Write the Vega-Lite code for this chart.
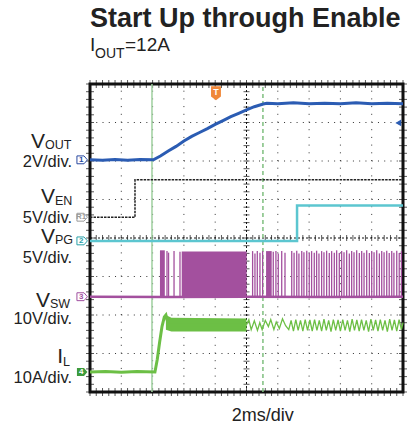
{
  "$schema": "https://vega.github.io/schema/vega-lite/v6.json",
  "width": 313,
  "height": 308,
  "autosize": {"type": "none"},
  "padding": {"left": 90, "top": 84, "right": 6, "bottom": 35},
  "config": {
    "view": {"stroke": "#111111", "strokeWidth": 3},
    "font": "Liberation Sans",
    "axis": {"disable": true},
    "text": {"font": "Liberation Sans", "color": "#222222", "baseline": "alphabetic"}
  },
  "datasets": {
    "gx": [{"t": 2}, {"t": 4}, {"t": 6}, {"t": 8}, {"t": 12}, {"t": 14}, {"t": 16}, {"t": 18}],
    "gy": [{"d": 1}, {"d": 2}, {"d": 3}, {"d": 5}, {"d": 6}, {"d": 7}],
    "mx": [{"t":0},{"t":0.4},{"t":0.8},{"t":1.2},{"t":1.6},{"t":2},{"t":2.4},{"t":2.8},{"t":3.2},{"t":3.6},{"t":4},{"t":4.4},{"t":4.8},{"t":5.2},{"t":5.6},{"t":6},{"t":6.4},{"t":6.8},{"t":7.2},{"t":7.6},{"t":8},{"t":8.4},{"t":8.8},{"t":9.2},{"t":9.6},{"t":10},{"t":10.4},{"t":10.8},{"t":11.2},{"t":11.6},{"t":12},{"t":12.4},{"t":12.8},{"t":13.2},{"t":13.6},{"t":14},{"t":14.4},{"t":14.8},{"t":15.2},{"t":15.6},{"t":16},{"t":16.4},{"t":16.8},{"t":17.2},{"t":17.6},{"t":18},{"t":18.4},{"t":18.8},{"t":19.2},{"t":19.6},{"t":20}],
    "my": [{"d":0},{"d":0.2},{"d":0.4},{"d":0.6},{"d":0.8},{"d":1},{"d":1.2},{"d":1.4},{"d":1.6},{"d":1.8},{"d":2},{"d":2.2},{"d":2.4},{"d":2.6},{"d":2.8},{"d":3},{"d":3.2},{"d":3.4},{"d":3.6},{"d":3.8},{"d":4},{"d":4.2},{"d":4.4},{"d":4.6},{"d":4.8},{"d":5},{"d":5.2},{"d":5.4},{"d":5.6},{"d":5.8},{"d":6},{"d":6.2},{"d":6.4},{"d":6.6},{"d":6.8},{"d":7},{"d":7.2},{"d":7.4},{"d":7.6},{"d":7.8},{"d":8}],
    "vout": [{"t":0,"d":6.03},{"t":0.8,"d":6.02},{"t":1.6,"d":6.04},{"t":2.4,"d":6.02},{"t":3.2,"d":6.04},{"t":4.05,"d":6.03},{"t":4.5,"d":6.13},{"t":5.0,"d":6.26},{"t":5.5,"d":6.38},{"t":6.0,"d":6.52},{"t":6.5,"d":6.64},{"t":7.0,"d":6.74},{"t":7.5,"d":6.84},{"t":8.0,"d":6.95},{"t":8.5,"d":7.05},{"t":9.0,"d":7.15},{"t":9.5,"d":7.24},{"t":10.0,"d":7.33},{"t":10.5,"d":7.41},{"t":11.07,"d":7.48},{"t":11.3,"d":7.5},{"t":12,"d":7.49},{"t":13,"d":7.51},{"t":14,"d":7.49},{"t":15,"d":7.5},{"t":16,"d":7.49},{"t":17,"d":7.51},{"t":18,"d":7.49},{"t":19,"d":7.5},{"t":20,"d":7.49}],
    "ven": [{"t":0,"d":4.54},{"t":2.875,"d":5.51},{"t":20,"d":5.51}],
    "vpg": [{"t":0,"d":3.925},{"t":13.23,"d":4.845},{"t":20,"d":4.845}],
    "vswBase": [{"t":0,"d":2.475},{"t":5,"d":2.47},{"t":10,"d":2.475},{"t":15,"d":2.47},{"t":20,"d":2.475}],
    "vswBlock": [
      {"seg":"a","t":4.47,"lo":2.45,"hi":3.68},{"seg":"a","t":4.78,"lo":2.45,"hi":3.68},
      {"seg":"b","t":5.86,"lo":2.45,"hi":3.65},{"seg":"b","t":10.01,"lo":2.45,"hi":3.65},
      {"seg":"c","t":11.25,"lo":2.45,"hi":3.66},{"seg":"c","t":11.61,"lo":2.45,"hi":3.66}
    ],
    "vswPulse": [{"t":4.92,"hi":3.66},{"t":5.02,"hi":3.62},{"t":5.37,"hi":3.66},{"t":5.75,"hi":3.64},{"t":10.39,"hi":3.66},{"t":10.54,"hi":3.6},{"t":10.69,"hi":3.66},{"t":10.86,"hi":3.62},{"t":11.03,"hi":3.66},{"t":11.71,"hi":3.64},{"t":11.88,"hi":3.66},{"t":12.03,"hi":3.6},{"t":12.25,"hi":3.66},{"t":12.46,"hi":3.62},{"t":12.89,"hi":3.66},{"t":13.04,"hi":3.62},{"t":13.21,"hi":3.67},{"t":13.35,"hi":3.6},{"t":13.53,"hi":3.66},{"t":13.67,"hi":3.63},{"t":13.85,"hi":3.67},{"t":14.01,"hi":3.61},{"t":14.16,"hi":3.66},{"t":14.33,"hi":3.62},{"t":14.48,"hi":3.67},{"t":14.63,"hi":3.6},{"t":14.8,"hi":3.66},{"t":14.95,"hi":3.63},{"t":15.12,"hi":3.67},{"t":15.29,"hi":3.61},{"t":15.44,"hi":3.66},{"t":15.61,"hi":3.62},{"t":15.76,"hi":3.68},{"t":15.93,"hi":3.61},{"t":16.08,"hi":3.66},{"t":16.23,"hi":3.63},{"t":16.4,"hi":3.68},{"t":16.57,"hi":3.6},{"t":16.72,"hi":3.66},{"t":16.87,"hi":3.63},{"t":17.04,"hi":3.68},{"t":17.21,"hi":3.61},{"t":17.36,"hi":3.66},{"t":17.51,"hi":3.62},{"t":17.68,"hi":3.68},{"t":17.85,"hi":3.61},{"t":18.0,"hi":3.66},{"t":18.15,"hi":3.63},{"t":18.32,"hi":3.68},{"t":18.49,"hi":3.6},{"t":18.64,"hi":3.66},{"t":18.79,"hi":3.63},{"t":18.96,"hi":3.67},{"t":19.12,"hi":3.61},{"t":19.28,"hi":3.66},{"t":19.42,"hi":3.62},{"t":19.6,"hi":3.67},{"t":19.76,"hi":3.61},{"t":19.9,"hi":3.66}],
    "il1": [{"t":0,"d":0.52},{"t":1,"d":0.53},{"t":2,"d":0.51},{"t":3,"d":0.53},{"t":4.15,"d":0.52},{"t":4.3,"d":0.85},{"t":4.45,"d":1.3},{"t":4.6,"d":1.7},{"t":4.75,"d":1.95},{"t":4.85,"d":2.0},{"t":5.0,"d":1.75},{"t":10.0,"d":1.75}],
    "ilBand": [{"t":4.85,"lo":1.62,"hi":2.0},{"t":5.2,"lo":1.57,"hi":1.93},{"t":10.0,"lo":1.57,"hi":1.91}],
    "il2": [{"t":10.0,"d":1.75},{"t":10.15,"d":1.88},{"t":10.3,"d":1.62},{"t":10.5,"d":1.85},{"t":10.7,"d":1.6},{"t":10.85,"d":1.8},{"t":11.0,"d":1.62},{"t":11.2,"d":1.86},{"t":11.4,"d":1.7},{"t":11.55,"d":1.88},{"t":11.75,"d":1.62},{"t":11.9,"d":1.82},{"t":12.1,"d":1.65},{"t":12.3,"d":1.9},{"t":12.5,"d":1.72},{"t":12.7,"d":1.62},{"t":12.85,"d":1.86},{"t":13.0,"d":1.58},{"t":13.15,"d":1.88},{"t":13.3,"d":1.6},{"t":13.45,"d":1.86},{"t":13.6,"d":1.58},{"t":13.75,"d":1.88},{"t":13.9,"d":1.6},{"t":14.05,"d":1.87},{"t":14.2,"d":1.58},{"t":14.35,"d":1.88},{"t":14.5,"d":1.6},{"t":14.65,"d":1.86},{"t":14.8,"d":1.58},{"t":14.95,"d":1.89},{"t":15.1,"d":1.6},{"t":15.25,"d":1.86},{"t":15.4,"d":1.57},{"t":15.55,"d":1.88},{"t":15.7,"d":1.6},{"t":15.85,"d":1.87},{"t":16.0,"d":1.58},{"t":16.15,"d":1.88},{"t":16.3,"d":1.6},{"t":16.45,"d":1.86},{"t":16.6,"d":1.57},{"t":16.75,"d":1.89},{"t":16.9,"d":1.6},{"t":17.05,"d":1.87},{"t":17.2,"d":1.58},{"t":17.35,"d":1.88},{"t":17.5,"d":1.6},{"t":17.65,"d":1.86},{"t":17.8,"d":1.57},{"t":17.95,"d":1.89},{"t":18.1,"d":1.6},{"t":18.25,"d":1.87},{"t":18.4,"d":1.58},{"t":18.55,"d":1.88},{"t":18.7,"d":1.6},{"t":18.85,"d":1.86},{"t":19.0,"d":1.57},{"t":19.15,"d":1.89},{"t":19.3,"d":1.6},{"t":19.45,"d":1.87},{"t":19.6,"d":1.58},{"t":19.75,"d":1.88},{"t":19.9,"d":1.62},{"t":20.0,"d":1.8}],
    "markers": [{"lab":"1","d":6.03},{"lab":"R1","d":4.54},{"lab":"2","d":3.925},{"lab":"3","d":2.475}],
    "ilMarker": [{"lab":"4","d":0.52}],
    "bigLetters": [{"s":"V","t":-2.875,"d":6.33},{"s":"V","t":-2.236,"d":4.901},{"s":"V","t":-2.236,"d":3.88},{"s":"V","t":-2.556,"d":2.216},{"s":"I","t":-1.725,"d":0.745}],
    "subLetters": [{"s":"OUT","t":-2.875,"d":6.3},{"s":"EN","t":-2.236,"d":4.87},{"s":"PG","t":-2.236,"d":3.855},{"s":"SW","t":-2.556,"d":2.19},{"s":"L","t":-1.725,"d":0.68}],
    "scaleLabels": [{"s":"2V/div.","d":5.85},{"s":"5V/div.","d":4.4},{"s":"5V/div.","d":3.36},{"s":"10V/div.","d":1.755},{"s":"10A/div.","d":0.245}],
    "titleText": [{"s":"Start Up through Enable","t":0,"d":9.48}],
    "subtitleMain": [{"s":"I","t":0,"d":8.86},{"s":"=12A","t":2.236,"d":8.86}],
    "subtitleSub": [{"s":"OUT","t":0.32,"d":8.67}],
    "timeLabel": [{"s":"2ms/div","t":9.054,"d":-0.753}]
  },
  "layer": [
    {
      "data": {"name": "gx"},
      "mark": {"type": "rule", "color": "#333333", "strokeWidth": 1, "strokeDash": [1, 6.7]},
      "encoding": {
        "x": {"field": "t", "type": "quantitative", "scale": {"domain": [0, 20], "nice": false, "zero": false}},
        "y": {"datum": 0, "type": "quantitative", "scale": {"domain": [0, 8], "nice": false, "zero": false}},
        "y2": {"datum": 8}
      }
    },
    {
      "data": {"name": "gy"},
      "mark": {"type": "rule", "color": "#333333", "strokeWidth": 1, "strokeDash": [1, 5.26]},
      "encoding": {
        "y": {"field": "d", "type": "quantitative", "scale": {"domain": [0, 8], "nice": false, "zero": false}},
        "x": {"datum": 0, "type": "quantitative", "scale": {"domain": [0, 20], "nice": false, "zero": false}},
        "x2": {"datum": 20}
      }
    },
    {
      "data": {"values": [{}]},
      "mark": {"type": "rule", "color": "#111111", "strokeWidth": 1, "strokeDash": [2, 2]},
      "encoding": {
        "x": {"datum": 10, "type": "quantitative", "scale": {"domain": [0, 20], "nice": false, "zero": false}},
        "y": {"datum": 0, "type": "quantitative", "scale": {"domain": [0, 8], "nice": false, "zero": false}},
        "y2": {"datum": 8}
      }
    },
    {
      "data": {"values": [{}]},
      "mark": {"type": "rule", "color": "#111111", "strokeWidth": 1, "strokeDash": [2, 2]},
      "encoding": {
        "y": {"datum": 4, "type": "quantitative", "scale": {"domain": [0, 8], "nice": false, "zero": false}},
        "x": {"datum": 0, "type": "quantitative", "scale": {"domain": [0, 20], "nice": false, "zero": false}},
        "x2": {"datum": 20}
      }
    },
    {
      "data": {"name": "my"},
      "mark": {"type": "tick", "orient": "horizontal", "color": "#111111", "size": 6, "thickness": 1},
      "encoding": {
        "x": {"datum": 10, "type": "quantitative", "scale": {"domain": [0, 20], "nice": false, "zero": false}},
        "y": {"field": "d", "type": "quantitative", "scale": {"domain": [0, 8], "nice": false, "zero": false}}
      }
    },
    {
      "data": {"name": "mx"},
      "mark": {"type": "tick", "orient": "vertical", "color": "#111111", "size": 6, "thickness": 1},
      "encoding": {
        "x": {"field": "t", "type": "quantitative", "scale": {"domain": [0, 20], "nice": false, "zero": false}},
        "y": {"datum": 4, "type": "quantitative", "scale": {"domain": [0, 8], "nice": false, "zero": false}}
      }
    },
    {
      "data": {"name": "mx"},
      "mark": {"type": "tick", "orient": "vertical", "color": "#111111", "size": 8, "thickness": 1},
      "encoding": {
        "x": {"field": "t", "type": "quantitative", "scale": {"domain": [0, 20], "nice": false, "zero": false}},
        "y": {"datum": 0, "type": "quantitative", "scale": {"domain": [0, 8], "nice": false, "zero": false}}
      }
    },
    {
      "data": {"name": "mx"},
      "mark": {"type": "tick", "orient": "vertical", "color": "#111111", "size": 8, "thickness": 1},
      "encoding": {
        "x": {"field": "t", "type": "quantitative", "scale": {"domain": [0, 20], "nice": false, "zero": false}},
        "y": {"datum": 8, "type": "quantitative", "scale": {"domain": [0, 8], "nice": false, "zero": false}}
      }
    },
    {
      "data": {"name": "my"},
      "mark": {"type": "tick", "orient": "horizontal", "color": "#111111", "size": 8, "thickness": 1},
      "encoding": {
        "x": {"datum": 0, "type": "quantitative", "scale": {"domain": [0, 20], "nice": false, "zero": false}},
        "y": {"field": "d", "type": "quantitative", "scale": {"domain": [0, 8], "nice": false, "zero": false}}
      }
    },
    {
      "data": {"name": "my"},
      "mark": {"type": "tick", "orient": "horizontal", "color": "#111111", "size": 8, "thickness": 1},
      "encoding": {
        "x": {"datum": 20, "type": "quantitative", "scale": {"domain": [0, 20], "nice": false, "zero": false}},
        "y": {"field": "d", "type": "quantitative", "scale": {"domain": [0, 8], "nice": false, "zero": false}}
      }
    },
    {
      "data": {"values": [{}]},
      "mark": {"type": "rule", "color": "#9fd09f", "strokeWidth": 1.5},
      "encoding": {
        "x": {"datum": 3.96, "type": "quantitative", "scale": {"domain": [0, 20], "nice": false, "zero": false}},
        "y": {"datum": 0, "type": "quantitative", "scale": {"domain": [0, 8], "nice": false, "zero": false}},
        "y2": {"datum": 8}
      }
    },
    {
      "data": {"values": [{}]},
      "mark": {"type": "rule", "color": "#7fbf7f", "strokeWidth": 1.5, "strokeDash": [4, 3]},
      "encoding": {
        "x": {"datum": 11.05, "type": "quantitative", "scale": {"domain": [0, 20], "nice": false, "zero": false}},
        "y": {"datum": 0, "type": "quantitative", "scale": {"domain": [0, 8], "nice": false, "zero": false}},
        "y2": {"datum": 8}
      }
    },
    {
      "data": {"name": "ven"},
      "mark": {"type": "line", "interpolate": "step-after", "color": "#222222", "strokeWidth": 1.5, "strokeDash": [2.5, 1]},
      "encoding": {
        "x": {"field": "t", "type": "quantitative", "scale": {"domain": [0, 20], "nice": false, "zero": false}},
        "y": {"field": "d", "type": "quantitative", "scale": {"domain": [0, 8], "nice": false, "zero": false}}
      }
    },
    {
      "data": {"name": "vpg"},
      "mark": {"type": "line", "interpolate": "step-after", "color": "#5cc6d0", "strokeWidth": 2.5},
      "encoding": {
        "x": {"field": "t", "type": "quantitative", "scale": {"domain": [0, 20], "nice": false, "zero": false}},
        "y": {"field": "d", "type": "quantitative", "scale": {"domain": [0, 8], "nice": false, "zero": false}}
      }
    },
    {
      "data": {"name": "vswBase"},
      "mark": {"type": "line", "color": "#a3509e", "strokeWidth": 2.5},
      "encoding": {
        "x": {"field": "t", "type": "quantitative", "scale": {"domain": [0, 20], "nice": false, "zero": false}},
        "y": {"field": "d", "type": "quantitative", "scale": {"domain": [0, 8], "nice": false, "zero": false}}
      }
    },
    {
      "data": {"name": "vswBlock"},
      "mark": {"type": "area", "color": "#a3509e", "opacity": 1},
      "encoding": {
        "x": {"field": "t", "type": "quantitative", "scale": {"domain": [0, 20], "nice": false, "zero": false}},
        "y": {"field": "hi", "type": "quantitative", "scale": {"domain": [0, 8], "nice": false, "zero": false}},
        "y2": {"field": "lo"},
        "detail": {"field": "seg"}
      }
    },
    {
      "data": {"name": "vswPulse"},
      "mark": {"type": "rule", "color": "#a3509e", "strokeWidth": 1.3},
      "encoding": {
        "x": {"field": "t", "type": "quantitative", "scale": {"domain": [0, 20], "nice": false, "zero": false}},
        "y": {"field": "hi", "type": "quantitative", "scale": {"domain": [0, 8], "nice": false, "zero": false}},
        "y2": {"datum": 2.45}
      }
    },
    {
      "data": {"name": "ilBand"},
      "mark": {"type": "area", "color": "#6cbf45"},
      "encoding": {
        "x": {"field": "t", "type": "quantitative", "scale": {"domain": [0, 20], "nice": false, "zero": false}},
        "y": {"field": "hi", "type": "quantitative", "scale": {"domain": [0, 8], "nice": false, "zero": false}},
        "y2": {"field": "lo"}
      }
    },
    {
      "data": {"name": "il1"},
      "mark": {"type": "line", "color": "#6cbf45", "strokeWidth": 3},
      "encoding": {
        "x": {"field": "t", "type": "quantitative", "scale": {"domain": [0, 20], "nice": false, "zero": false}},
        "y": {"field": "d", "type": "quantitative", "scale": {"domain": [0, 8], "nice": false, "zero": false}}
      }
    },
    {
      "data": {"name": "il2"},
      "mark": {"type": "line", "color": "#6cbf45", "strokeWidth": 1.3},
      "encoding": {
        "x": {"field": "t", "type": "quantitative", "scale": {"domain": [0, 20], "nice": false, "zero": false}},
        "y": {"field": "d", "type": "quantitative", "scale": {"domain": [0, 8], "nice": false, "zero": false}}
      }
    },
    {
      "data": {"name": "vout"},
      "mark": {"type": "line", "color": "#2b5cb3", "strokeWidth": 3},
      "encoding": {
        "x": {"field": "t", "type": "quantitative", "scale": {"domain": [0, 20], "nice": false, "zero": false}},
        "y": {"field": "d", "type": "quantitative", "scale": {"domain": [0, 8], "nice": false, "zero": false}}
      }
    },
    {
      "data": {"values": [{}]},
      "mark": {"type": "point", "shape": "triangle-left", "filled": true, "color": "#2b5cb3", "size": 45, "opacity": 1},
      "encoding": {
        "x": {"datum": 19.7, "type": "quantitative", "scale": {"domain": [0, 20], "nice": false, "zero": false}},
        "y": {"datum": 6.99, "type": "quantitative", "scale": {"domain": [0, 8], "nice": false, "zero": false}}
      }
    },
    {
      "data": {"values": [{}]},
      "mark": {"type": "point", "shape": "M-0.7,-1 H0.7 V0.45 L0,1 L-0.7,0.45 Z", "filled": true, "color": "#f0883a", "size": 200, "opacity": 1},
      "encoding": {
        "x": {"datum": 8.05, "type": "quantitative", "scale": {"domain": [0, 20], "nice": false, "zero": false}},
        "y": {"datum": 7.76, "type": "quantitative", "scale": {"domain": [0, 8], "nice": false, "zero": false}}
      }
    },
    {
      "data": {"values": [{}]},
      "mark": {"type": "text", "text": "T", "color": "#ffffff", "fontSize": 9, "fontWeight": "bold", "align": "center", "baseline": "middle"},
      "encoding": {
        "x": {"datum": 8.05, "type": "quantitative", "scale": {"domain": [0, 20], "nice": false, "zero": false}},
        "y": {"datum": 7.78, "type": "quantitative", "scale": {"domain": [0, 8], "nice": false, "zero": false}}
      }
    },
    {
      "data": {"name": "markers"},
      "mark": {"type": "point", "shape": "M-1,-0.75 H0.35 L1,0 L0.35,0.75 H-1 Z", "filled": false, "fill": "#ffffff", "fillOpacity": 1, "size": 110, "strokeWidth": 1, "opacity": 1},
      "encoding": {
        "x": {"datum": -0.5, "type": "quantitative", "scale": {"domain": [0, 20], "nice": false, "zero": false}},
        "y": {"field": "d", "type": "quantitative", "scale": {"domain": [0, 8], "nice": false, "zero": false}},
        "color": {"field": "lab", "type": "nominal", "scale": {"domain": ["1", "R1", "2", "3"], "range": ["#2a4aa0", "#9a9a9a", "#2aa0a8", "#a050a0"]}, "legend": null}
      }
    },
    {
      "data": {"name": "markers"},
      "mark": {"type": "text", "fontSize": 8, "fontWeight": "bold", "align": "center", "baseline": "middle", "dx": -1},
      "encoding": {
        "x": {"datum": -0.5, "type": "quantitative", "scale": {"domain": [0, 20], "nice": false, "zero": false}},
        "y": {"field": "d", "type": "quantitative", "scale": {"domain": [0, 8], "nice": false, "zero": false}},
        "text": {"field": "lab"},
        "color": {"field": "lab", "type": "nominal", "scale": {"domain": ["1", "R1", "2", "3"], "range": ["#2a4aa0", "#9a9a9a", "#2aa0a8", "#a050a0"]}, "legend": null}
      }
    },
    {
      "data": {"name": "ilMarker"},
      "mark": {"type": "point", "shape": "M-1,-0.75 H0.35 L1,0 L0.35,0.75 H-1 Z", "filled": true, "color": "#3d9b3d", "size": 110, "opacity": 1},
      "encoding": {
        "x": {"datum": -0.5, "type": "quantitative", "scale": {"domain": [0, 20], "nice": false, "zero": false}},
        "y": {"field": "d", "type": "quantitative", "scale": {"domain": [0, 8], "nice": false, "zero": false}}
      }
    },
    {
      "data": {"name": "ilMarker"},
      "mark": {"type": "text", "fontSize": 8, "fontWeight": "bold", "align": "center", "baseline": "middle", "color": "#ffffff", "dx": -1},
      "encoding": {
        "x": {"datum": -0.5, "type": "quantitative", "scale": {"domain": [0, 20], "nice": false, "zero": false}},
        "y": {"field": "d", "type": "quantitative", "scale": {"domain": [0, 8], "nice": false, "zero": false}},
        "text": {"field": "lab"}
      }
    },
    {
      "data": {"name": "bigLetters"},
      "mark": {"type": "text", "fontSize": 21, "align": "right", "baseline": "alphabetic", "color": "#222222"},
      "encoding": {
        "x": {"field": "t", "type": "quantitative", "scale": {"domain": [0, 20], "nice": false, "zero": false}},
        "y": {"field": "d", "type": "quantitative", "scale": {"domain": [0, 8], "nice": false, "zero": false}},
        "text": {"field": "s"}
      }
    },
    {
      "data": {"name": "subLetters"},
      "mark": {"type": "text", "fontSize": 12.5, "align": "left", "baseline": "alphabetic", "color": "#222222"},
      "encoding": {
        "x": {"field": "t", "type": "quantitative", "scale": {"domain": [0, 20], "nice": false, "zero": false}},
        "y": {"field": "d", "type": "quantitative", "scale": {"domain": [0, 8], "nice": false, "zero": false}},
        "text": {"field": "s"}
      }
    },
    {
      "data": {"name": "scaleLabels"},
      "mark": {"type": "text", "fontSize": 16.5, "align": "right", "baseline": "alphabetic", "color": "#222222"},
      "encoding": {
        "x": {"datum": -1.15, "type": "quantitative", "scale": {"domain": [0, 20], "nice": false, "zero": false}},
        "y": {"field": "d", "type": "quantitative", "scale": {"domain": [0, 8], "nice": false, "zero": false}},
        "text": {"field": "s"}
      }
    },
    {
      "data": {"name": "titleText"},
      "mark": {"type": "text", "fontSize": 27, "fontWeight": "bold", "align": "left", "baseline": "alphabetic", "color": "#222222"},
      "encoding": {
        "x": {"field": "t", "type": "quantitative", "scale": {"domain": [0, 20], "nice": false, "zero": false}},
        "y": {"field": "d", "type": "quantitative", "scale": {"domain": [0, 8], "nice": false, "zero": false}},
        "text": {"field": "s"}
      }
    },
    {
      "data": {"name": "subtitleMain"},
      "mark": {"type": "text", "fontSize": 19, "align": "left", "baseline": "alphabetic", "color": "#222222"},
      "encoding": {
        "x": {"field": "t", "type": "quantitative", "scale": {"domain": [0, 20], "nice": false, "zero": false}},
        "y": {"field": "d", "type": "quantitative", "scale": {"domain": [0, 8], "nice": false, "zero": false}},
        "text": {"field": "s"}
      }
    },
    {
      "data": {"name": "subtitleSub"},
      "mark": {"type": "text", "fontSize": 14, "align": "left", "baseline": "alphabetic", "color": "#222222"},
      "encoding": {
        "x": {"field": "t", "type": "quantitative", "scale": {"domain": [0, 20], "nice": false, "zero": false}},
        "y": {"field": "d", "type": "quantitative", "scale": {"domain": [0, 8], "nice": false, "zero": false}},
        "text": {"field": "s"}
      }
    },
    {
      "data": {"name": "timeLabel"},
      "mark": {"type": "text", "fontSize": 18, "align": "left", "baseline": "alphabetic", "color": "#222222"},
      "encoding": {
        "x": {"field": "t", "type": "quantitative", "scale": {"domain": [0, 20], "nice": false, "zero": false}},
        "y": {"field": "d", "type": "quantitative", "scale": {"domain": [0, 8], "nice": false, "zero": false}},
        "text": {"field": "s"}
      }
    }
  ]
}
